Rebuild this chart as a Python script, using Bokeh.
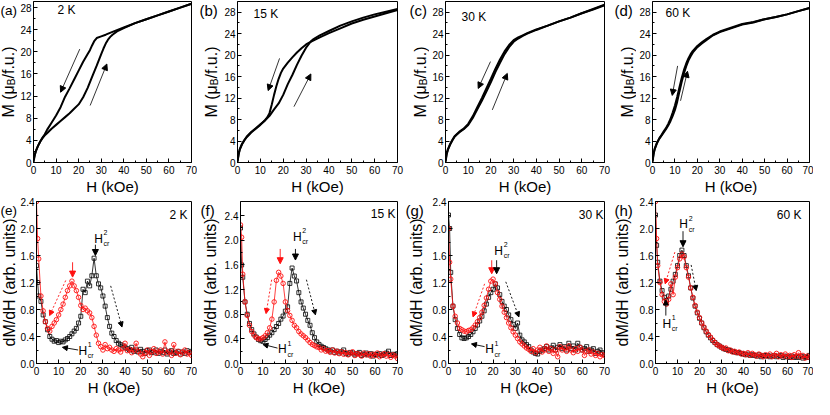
import math
from bokeh.plotting import figure
from bokeh.layouts import column, row
from bokeh.models import (Range1d, FixedTicker, NumeralTickFormatter, Label, Arrow,
                          NormalHead)
from bokeh.embed import file_html
from bokeh.resources import INLINE

FONT = "Liberation Sans"
RED = "#ff1010"

# ---------------- tick values ----------------
X_TICKS = [0, 10, 20, 30, 40, 50, 60, 70]
X_MINOR = [5, 15, 25, 35, 45, 55, 65]
M_TICKS = [0, 4, 8, 12, 16, 20, 24, 28]
M_MINOR = [2, 6, 10, 14, 18, 22, 26]
D_TICKS = [0.0, 0.4, 0.8, 1.2, 1.6, 2.0, 2.4]
D_MINOR = [0.2, 0.6, 1.0, 1.4, 1.8, 2.2]

# ---------------- M(H) loops ----------------
a_up_H = [0, 0.5, 1, 2, 3, 4, 5, 6, 8, 10, 12, 14, 16, 18, 20, 22, 24, 26, 28, 30, 31, 32, 33, 34, 35, 37, 40, 45, 50, 55, 60, 65, 70]
a_up_M = [0, 1.2, 2.0, 3.0, 3.8, 4.4, 4.9, 5.3, 6.1, 6.8, 7.5, 8.2, 8.9, 9.7, 10.5, 11.8, 13.5, 15.5, 17.5, 19.6, 20.6, 21.5, 22.2, 22.7, 23.1, 23.7, 24.3, 25.2, 25.9, 26.6, 27.3, 28.0, 28.7]
a_dn_H = [70, 65, 60, 55, 50, 45, 40, 35, 32, 30, 28, 27, 26, 25, 24, 22, 20, 18, 16, 14, 12, 10, 8, 6, 5, 4, 3, 2, 1, 0.5, 0]
a_dn_M = [28.7, 28.0, 27.3, 26.6, 25.9, 25.2, 24.4, 23.6, 23.1, 22.8, 22.5, 22.0, 21.2, 20.3, 19.6, 18.2, 16.6, 15.0, 13.4, 11.9, 10.0, 8.5, 7.2, 5.9, 5.1, 4.5, 3.8, 3.0, 2.0, 1.3, 0.4]

b_up_H = [0, 0.5, 1, 2, 3, 4, 6, 8, 10, 12, 14, 15, 16, 18, 20, 22, 24, 26, 28, 30, 32, 33, 34, 36, 40, 45, 50, 55, 60, 65, 70]
b_up_M = [0, 1.6, 2.5, 3.5, 4.2, 4.8, 5.7, 6.4, 7.1, 7.8, 8.7, 9.3, 9.9, 11.0, 12.6, 14.6, 16.3, 18.2, 19.9, 21.4, 22.5, 22.9, 23.2, 23.7, 24.5, 25.5, 26.3, 27.0, 27.6, 28.1, 28.6]
b_dn_H = [70, 65, 60, 55, 50, 45, 40, 36, 34, 32, 30, 28, 26, 24, 22, 20, 19, 18, 17, 16, 15, 14, 13, 12, 10, 8, 6, 4, 3, 2, 1, 0.5, 0]
b_dn_M = [28.4, 27.8, 27.2, 26.6, 25.9, 25.0, 24.1, 23.3, 22.9, 22.5, 22.0, 21.3, 20.5, 19.6, 18.6, 17.5, 16.7, 15.6, 14.2, 12.6, 10.8, 9.2, 8.4, 7.9, 7.0, 6.3, 5.6, 4.7, 4.1, 3.4, 2.4, 1.5, 0.3]

c_up_H = [0, 0.5, 1, 2, 3, 4, 5, 6, 8, 10, 12, 14, 16, 18, 20, 22, 24, 26, 28, 30, 32, 34, 36, 40, 45, 50, 55, 60, 65, 70]
c_up_M = [0, 1.5, 2.3, 3.3, 4.1, 4.8, 5.2, 5.6, 6.2, 7.0, 8.3, 9.9, 11.5, 13.2, 15.0, 16.9, 18.6, 20.2, 21.5, 22.5, 23.1, 23.6, 24.0, 24.7, 25.5, 26.3, 27.0, 27.8, 28.6, 29.4]
c_dn_H = [70, 65, 60, 55, 50, 45, 40, 36, 34, 32, 30, 28, 26, 24, 22, 20, 18, 16, 14, 12, 10, 8, 6, 4, 3, 2, 1, 0.5, 0]
c_dn_M = [29.3, 28.5, 27.8, 27.0, 26.3, 25.5, 24.8, 24.1, 23.7, 23.3, 22.8, 21.9, 20.7, 19.2, 17.5, 15.6, 13.8, 12.0, 10.3, 8.6, 7.2, 6.3, 5.7, 4.9, 4.2, 3.4, 2.4, 1.6, 0.3]

d_up_H = [0, 0.5, 1, 2, 3, 4, 5, 6, 7, 8, 9, 10, 11, 12, 13, 14, 15, 16, 17, 18, 20, 22, 24, 27, 30, 35, 40, 45, 50, 55, 60, 65, 70]
d_up_M = [0, 1.6, 2.5, 3.6, 4.4, 5.0, 5.6, 6.2, 6.9, 7.7, 8.7, 9.8, 11.3, 13.2, 15.0, 16.6, 17.9, 19.0, 19.8, 20.5, 21.5, 22.2, 22.8, 23.7, 24.3, 25.0, 25.7, 26.1, 26.7, 27.1, 27.6, 28.2, 28.8]
d_dn_H = [70, 65, 60, 55, 50, 45, 40, 35, 30, 27, 24, 22, 20, 18, 17, 16, 15, 14, 13, 12, 11, 10, 9, 8, 7, 6, 5, 4, 3, 2, 1, 0.5, 0]
d_dn_M = [28.8, 28.2, 27.6, 27.1, 26.7, 26.2, 25.8, 25.1, 24.4, 23.8, 23.0, 22.4, 21.7, 20.8, 20.2, 19.4, 18.4, 17.2, 15.7, 14.0, 12.2, 10.6, 9.3, 8.1, 7.2, 6.4, 5.8, 5.1, 4.5, 3.7, 2.6, 1.7, 0.3]

# ---------------- dM/dH curves ----------------
H_GRID = [0, 0.5, 1, 2, 3, 4, 5, 6, 7, 8,
          9, 10, 11, 12, 13, 14, 15, 16, 17, 18,
          19, 20, 21, 22, 23, 24, 25, 26, 27, 28,
          29, 30, 31, 32, 33, 34, 35, 36, 37, 38,
          39, 40, 41, 42, 43, 44, 45, 46, 47, 48,
          49, 50, 51, 52, 53, 54, 55, 56, 57, 58,
          59, 60, 61, 62, 63, 64, 65, 66, 67, 68,
          69, 70]

e_black = [1.45, 1.2, 1.0, 0.92, 0.72, 0.62, 0.5, 0.4, 0.36, 0.33,
           0.34, 0.31, 0.33, 0.32, 0.35, 0.37, 0.4, 0.44, 0.48, 0.52,
           0.6, 0.7, 1.1, 1.05, 1.22, 1.15, 1.3, 1.56, 1.3, 1.18,
           1.12, 1.0, 0.85, 0.68, 0.55, 0.45, 0.4, 0.34, 0.3, 0.28,
           0.26, 0.24, 0.22, 0.2, 0.24, 0.18, 0.2, 0.17, 0.21, 0.18,
           0.15, 0.19, 0.2, 0.16, 0.17, 0.2, 0.15, 0.18, 0.16, 0.2,
           0.14, 0.17, 0.19, 0.15, 0.16, 0.18, 0.14, 0.17, 0.15, 0.19,
           0.16, 0.18]
e_red = [2.4, 1.85, 1.55, 1.0, 0.78, 0.62, 0.52, 0.48, 0.55, 0.6,
         0.65, 0.72, 0.8, 0.88, 0.98, 1.08, 1.15, 1.22, 1.15, 1.08,
         0.98, 0.86, 0.8, 0.82, 0.78, 0.75, 0.68, 0.55, 0.42, 0.3,
         0.25, 0.2, 0.28, 0.22, 0.24, 0.2, 0.18, 0.22, 0.2, 0.17,
         0.22, 0.3, 0.19, 0.21, 0.16, 0.2, 0.3, 0.18, 0.14, 0.1,
         0.16, 0.2, 0.12, 0.18, 0.22, 0.15, 0.17, 0.2, 0.14, 0.32,
         0.16, 0.18, 0.12, 0.28, 0.15, 0.18, 0.13, 0.17, 0.2, 0.14,
         0.16, 0.12]
f_black = [2.2, 1.6, 1.4, 1.0, 0.8, 0.65, 0.55, 0.48, 0.43, 0.39,
           0.37, 0.36, 0.39, 0.42, 0.46, 0.5, 0.55, 0.6, 0.65, 0.72,
           0.77, 0.85, 0.92, 1.3, 1.55, 1.42, 1.34, 1.15, 1.0, 0.9,
           0.8, 0.7, 0.62, 0.5, 0.42, 0.35, 0.31, 0.28, 0.26, 0.24,
           0.22, 0.2, 0.22, 0.18, 0.2, 0.17, 0.19, 0.22, 0.16, 0.15,
           0.18, 0.17, 0.14, 0.16, 0.18, 0.13, 0.15, 0.17, 0.14, 0.16,
           0.12, 0.15, 0.14, 0.16, 0.13, 0.15, 0.17, 0.2, 0.13, 0.15,
           0.14, 0.16]
f_red = [2.25, 2.05, 1.45, 1.0, 0.78, 0.62, 0.52, 0.46, 0.42, 0.4,
         0.4, 0.42, 0.45, 0.5, 0.58, 0.72, 1.0, 1.35, 1.48, 1.42,
         1.3, 1.0, 0.86, 0.78, 0.7, 0.62, 0.58, 0.52, 0.48, 0.45,
         0.42, 0.38, 0.34, 0.31, 0.29, 0.27, 0.26, 0.22, 0.24, 0.2,
         0.21, 0.18, 0.22, 0.17, 0.2, 0.16, 0.19, 0.15, 0.18, 0.14,
         0.17, 0.19, 0.13, 0.16, 0.15, 0.12, 0.17, 0.14, 0.16, 0.12,
         0.15, 0.13, 0.17, 0.11, 0.14, 0.16, 0.12, 0.15, 0.1, 0.14,
         0.12, 0.08]
g_black = [2.2, 2.0, 1.35, 0.85, 0.65, 0.52, 0.43, 0.38, 0.37, 0.38,
           0.4, 0.43, 0.47, 0.52, 0.57, 0.63, 0.7, 0.78, 0.88, 0.98,
           1.05, 1.1, 1.18, 1.12, 1.02, 0.92, 0.85, 0.8, 0.72, 0.65,
           0.58, 0.52, 0.6, 0.42, 0.35, 0.32, 0.28, 0.25, 0.2, 0.17,
           0.15, 0.14, 0.18, 0.2, 0.22, 0.25, 0.2, 0.23, 0.27, 0.2,
           0.24, 0.28, 0.22, 0.25, 0.2, 0.3, 0.22, 0.26, 0.2, 0.3,
           0.24, 0.2, 0.22, 0.25, 0.18, 0.2, 0.22, 0.15, 0.18, 0.2,
           0.16, 0.14]
g_red = [2.0, 1.5, 1.25, 0.85, 0.7, 0.6, 0.52, 0.5, 0.48, 0.47,
         0.49, 0.5, 0.53, 0.57, 0.62, 0.68, 0.76, 0.86, 0.97, 1.1,
         1.22, 1.25, 1.18, 1.05, 0.95, 0.85, 0.76, 0.68, 0.6, 0.53,
         0.47, 0.42, 0.37, 0.32, 0.29, 0.26, 0.23, 0.21, 0.18, 0.22,
         0.16, 0.2, 0.24, 0.17, 0.2, 0.26, 0.18, 0.22, 0.15, 0.2,
         0.1, 0.25, 0.2, 0.23, 0.18, 0.26, 0.2, 0.16, 0.22, 0.18,
         0.24, 0.2, 0.12, 0.18, 0.2, 0.14, 0.17, 0.12, 0.15, 0.1,
         0.13, 0.12]
h_black = [2.2, 1.75, 1.5, 1.22, 1.08, 0.98, 0.93, 1.0, 1.1, 1.22,
           1.32, 1.45, 1.6, 1.68, 1.6, 1.45, 1.3, 1.12, 0.97, 0.85,
           0.75, 0.67, 0.6, 0.53, 0.47, 0.42, 0.38, 0.34, 0.31, 0.28,
           0.26, 0.24, 0.22, 0.21, 0.2, 0.19, 0.18, 0.17, 0.16, 0.16,
           0.15, 0.14, 0.13, 0.14, 0.12, 0.13, 0.12, 0.11, 0.13, 0.1,
           0.12, 0.11, 0.12, 0.1, 0.11, 0.12, 0.1, 0.11, 0.12, 0.09,
           0.11, 0.1, 0.09, 0.11, 0.09, 0.1, 0.09, 0.11, 0.08, 0.1,
           0.09, 0.12]
h_red = [2.4, 1.85, 1.45, 1.2, 1.02, 0.92, 0.88, 0.95, 1.18, 1.02,
         1.28, 1.42, 1.55, 1.62, 1.58, 1.42, 1.28, 1.12, 0.98, 0.86,
         0.76, 0.68, 0.6, 0.54, 0.48, 0.43, 0.39, 0.35, 0.31, 0.28,
         0.26, 0.24, 0.22, 0.23, 0.19, 0.2, 0.17, 0.18, 0.16, 0.17,
         0.14, 0.15, 0.13, 0.16, 0.12, 0.15, 0.13, 0.11, 0.14, 0.12,
         0.1, 0.13, 0.11, 0.14, 0.1, 0.12, 0.15, 0.1, 0.13, 0.11,
         0.14, 0.1, 0.12, 0.09, 0.13, 0.11, 0.16, 0.1, 0.12, 0.08,
         0.11, 0.09]

# ---------------- annotations (data coordinates) ----------------
TOP_ARROWS = {
    "a": [(20.5, 20.5, 12.0, 12.7), (25.1, 10.3, 32.5, 17.8)],
    "b": [(18.4, 19.4, 13.4, 13.4), (24.7, 10.4, 32.1, 16.5)],
    "c": [(19.8, 18.8, 14.4, 13.8), (20.6, 9.8, 27.2, 16.6)],
    "d": [(11.2, 18.0, 8.8, 12.5), (12.5, 11.5, 15.6, 17.0)],
}
RED_SOLID = {"e": (16.3, 1.50, 1.28), "f": (17.7, 1.86, 1.62), "g": (19.4, 1.53, 1.33)}
BLACK_SOLID = {"e": (26.6, 1.76, 1.60), "f": (24.5, 1.86, 1.68), "g": (21.6, 1.53, 1.33), "h": (12.5, 1.96, 1.73)}
H1_ARROW = {"e": (18.8, 0.20, 11.7, 0.24), "f": (16.5, 0.25, 10.0, 0.31), "g": (16.2, 0.25, 10.3, 0.29), "h": (4.7, 0.71, 4.7, 0.94)}
RED_DASH = {"e": (13.2, 1.23, 5.9, 0.71), "f": (13.9, 1.36, 11.4, 0.81), "g": (16.2, 1.18, 11.0, 0.69), "h": (8.8, 1.65, 4.4, 1.18)}
BLACK_DASH = {"e": (33.5, 1.15, 38.6, 0.54), "f": (29.4, 1.36, 33.4, 0.79), "g": (25.7, 1.21, 31.6, 0.69), "h": (16.2, 1.46, 18.5, 1.08)}
H2_LABEL = {"e": (28.0, 1.85), "f": (25.3, 2.06), "g": (22.5, 1.67), "h": (12.8, 2.06)}
H1_LABEL = {"e": (20.9, 0.19), "f": (18.7, 0.23), "g": (18.4, 0.21), "h": (5.1, 0.59)}

TEMPS = {"a": "2 K", "b": "15 K", "c": "30 K", "d": "60 K",
         "e": "2 K", "f": "15 K", "g": "30 K", "h": "60 K"}

# ---------------- layout (pixels) ----------------
# per column: (gutter width, border left, frame width, border right)
COLS = [(17, 16, 158, 6), (24, 16, 160, 7), (25, 16, 159, 7), (25, 16, 157, 4)]
TOP_HT, TOP_BT, TOP_BB = 197, 1, 34
BOT_HT, BOT_BT, BOT_BB = 201, 4, 31
# gutter text positions: (title centre x, letter left x, letter font)
TOP_GUT = [(8, 0, "13.5px"), (14, 2, "15px"), (16, 5, "15px"), (16, 3, "15px")]
BOT_GUT = [(8.5, 0, "13.5px"), (12.5, 3, "15px"), (11.5, 1, "15px"), (11, 3, "15px")]
TOP_TEMP_POS = {"a": (24, 8), "b": (16, 12), "c": (16, 15), "d": (13, 11)}
BOT_TEMP_POS = {"e": (7, 13), "f": (5, 12), "g": (4, 13), "h": (11, 13)}


def lbl(p, text, x, y, size, align="left", baseline="middle", angle=0.0,
        xu="screen", yu="screen", color="black", xo=0, yo=0):
    p.add_layout(Label(x=x, y=y, x_units=xu, y_units=yu, text=text,
                       text_font=FONT, text_font_size=size, text_color=color,
                       text_align=align, text_baseline=baseline, angle=angle,
                       x_offset=xo, y_offset=yo))


def gutter(width, height):
    g = figure(width=width, height=height, x_range=Range1d(0, 1),
               y_range=Range1d(0, 1), output_backend="svg",
               toolbar_location=None, title=None, x_axis_type=None,
               y_axis_type=None, min_border_left=0, min_border_right=0,
               min_border_top=0, min_border_bottom=0)
    g.outline_line_color = None
    g.background_fill_color = "white"
    g.border_fill_color = "white"
    return g


def base_fig(col, height, bt, bb, ymax):
    gw, bl, fw, br = COLS[col]
    p = figure(width=bl + fw + br, height=height, x_range=Range1d(0, 70),
               y_range=Range1d(0, ymax), output_backend="svg",
               toolbar_location=None, title=None,
               min_border_left=bl, min_border_right=br,
               min_border_top=bt, min_border_bottom=bb)
    p.grid.visible = False
    p.outline_line_color = "black"
    p.outline_line_width = 1
    p.background_fill_color = "white"
    p.border_fill_color = "white"
    for ax in (p.xaxis[0], p.yaxis[0]):
        ax.major_tick_in = 4
        ax.major_tick_out = 0
        ax.minor_tick_in = 2
        ax.minor_tick_out = 0
        ax.axis_line_color = "black"
        ax.major_tick_line_color = "black"
        ax.minor_tick_line_color = "black"
        ax.major_label_text_font = FONT
        ax.major_label_text_font_size = "10px"
        ax.major_label_text_color = "black"
    p.xaxis.major_label_standoff = 3
    p.yaxis.major_label_standoff = 2
    p.xaxis.ticker = FixedTicker(ticks=X_TICKS, minor_ticks=X_MINOR)
    p.xaxis.axis_label = "H (kOe)"
    p.xaxis.axis_label_text_font = FONT
    p.xaxis.axis_label_text_font_size = "15px"
    p.xaxis.axis_label_text_font_style = "normal"
    p.xaxis.axis_label_text_color = "black"
    p.xaxis.axis_label_standoff = 1
    return p


def top_panel(col, key, up_H, up_M, dn_H, dn_M, ymax):
    gw = COLS[col][0]
    g = gutter(gw, TOP_HT)
    tx, lx, lf = TOP_GUT[col]
    # y title  M (mu_B/f.u.)  (rotated, subscript B), centred on the frame
    w1, w2, w3 = 32.3, 6.7, 32.0
    start = -(w1 + w2 + w3) / 2
    lbl(g, "M (μ", tx, 0.5, "16px", angle=math.pi / 2, yu="data", yo=start)
    lbl(g, "B", tx + 3, 0.5, "10px", angle=math.pi / 2, yu="data", yo=start + w1)
    lbl(g, "/f.u.)", tx, 0.5, "16px", angle=math.pi / 2, yu="data",
        yo=start + w1 + w2)
    lbl(g, "(" + key + ")", lx, 1.0, lf, yu="data", yo=-9)

    p = base_fig(col, TOP_HT, TOP_BT, TOP_BB, ymax)
    p.yaxis.ticker = FixedTicker(ticks=M_TICKS, minor_ticks=M_MINOR)
    p.line(up_H, up_M, line_color="black", line_width=2)
    p.line(dn_H, dn_M, line_color="black", line_width=2)
    for (x0, y0a, x1, y1) in TOP_ARROWS[key]:
        p.add_layout(Arrow(x_start=x0, y_start=y0a, x_end=x1, y_end=y1,
                           line_color="black", line_width=0.8,
                           end=NormalHead(size=6, fill_color="black",
                                          line_color="black")))
    tx2, ty2 = TOP_TEMP_POS[key]
    lbl(p, TEMPS[key], tx2, ymax, "12px", yu="data", yo=-ty2)
    return g, p


def bottom_panel(col, key, black, red, ymax):
    gw, bl, fw, br = COLS[col]
    g = gutter(gw, BOT_HT)
    tx, lx, lf = BOT_GUT[col]
    lbl(g, "dM/dH (arb. units)", tx, 0.5, "16px", align="center",
        angle=math.pi / 2, yu="data")
    lbl(g, "(" + key + ")", lx, 1.0, lf, yu="data", yo=-8.5)

    p = base_fig(col, BOT_HT, BOT_BT, BOT_BB, ymax)
    p.yaxis.ticker = FixedTicker(ticks=D_TICKS, minor_ticks=D_MINOR)
    p.yaxis.formatter = NumeralTickFormatter(format="0.0")
    p.line(H_GRID, black, line_color="black", line_width=0.8)
    p.scatter(H_GRID, black, marker="square", size=4, line_color="black",
              fill_color=None, line_width=0.8)
    p.line(H_GRID, red, line_color=RED, line_width=0.8)
    p.scatter(H_GRID, red, marker="circle", size=4.5, line_color=RED,
              fill_color=None, line_width=0.9)

    def arrow(x0, y0, x1, y1, color, dash="solid", size=5):
        p.add_layout(Arrow(x_start=x0, y_start=y0, x_end=x1, y_end=y1,
                           line_color=color, line_width=0.9, line_dash=dash,
                           end=NormalHead(size=size, fill_color=color,
                                          line_color=color)))
    if key in RED_SOLID:
        x, ya, yb = RED_SOLID[key]
        arrow(x, ya, x, yb, RED, size=6)
    x, ya, yb = BLACK_SOLID[key]
    arrow(x, ya, x, yb, "black", size=6)
    arrow(*H1_ARROW[key], "black", size=5)
    arrow(*RED_DASH[key], RED, dash="2 2", size=5)
    arrow(*BLACK_DASH[key], "black", dash="2 2", size=5)
    for (hx, hy), sup in ((H2_LABEL[key], "2"), (H1_LABEL[key], "1")):
        lbl(p, "H", hx, hy, "12px", align="center", xu="data", yu="data")
        lbl(p, sup, hx, hy, "7px", xu="data", yu="data", xo=5, yo=6)
        lbl(p, "cr", hx, hy, "7px", xu="data", yu="data", xo=5, yo=-5)
    rx, ry = BOT_TEMP_POS[key]
    lbl(p, TEMPS[key], fw - rx, ymax, "12px", align="right", yu="data", yo=-ry)
    return g, p


top = []
for i, (k, uH, uM, dH, dM, ym) in enumerate([
        ("a", a_up_H, a_up_M, a_dn_H, a_dn_M, 29.1),
        ("b", b_up_H, b_up_M, b_dn_H, b_dn_M, 30.0),
        ("c", c_up_H, c_up_M, c_dn_H, c_dn_M, 30.0),
        ("d", d_up_H, d_up_M, d_dn_H, d_dn_M, 30.0)]):
    top.extend(top_panel(i, k, uH, uM, dH, dM, ym))

bot = []
for i, (k, bk, rd, ym) in enumerate([
        ("e", e_black, e_red, 2.4),
        ("f", f_black, f_red, 2.63),
        ("g", g_black, g_red, 2.4),
        ("h", h_black, h_red, 2.4)]):
    bot.extend(bottom_panel(i, k, bk, rd, ym))

layout = column(row(*top), row(*bot))

open("out.html", "w").write(file_html(layout, INLINE))
